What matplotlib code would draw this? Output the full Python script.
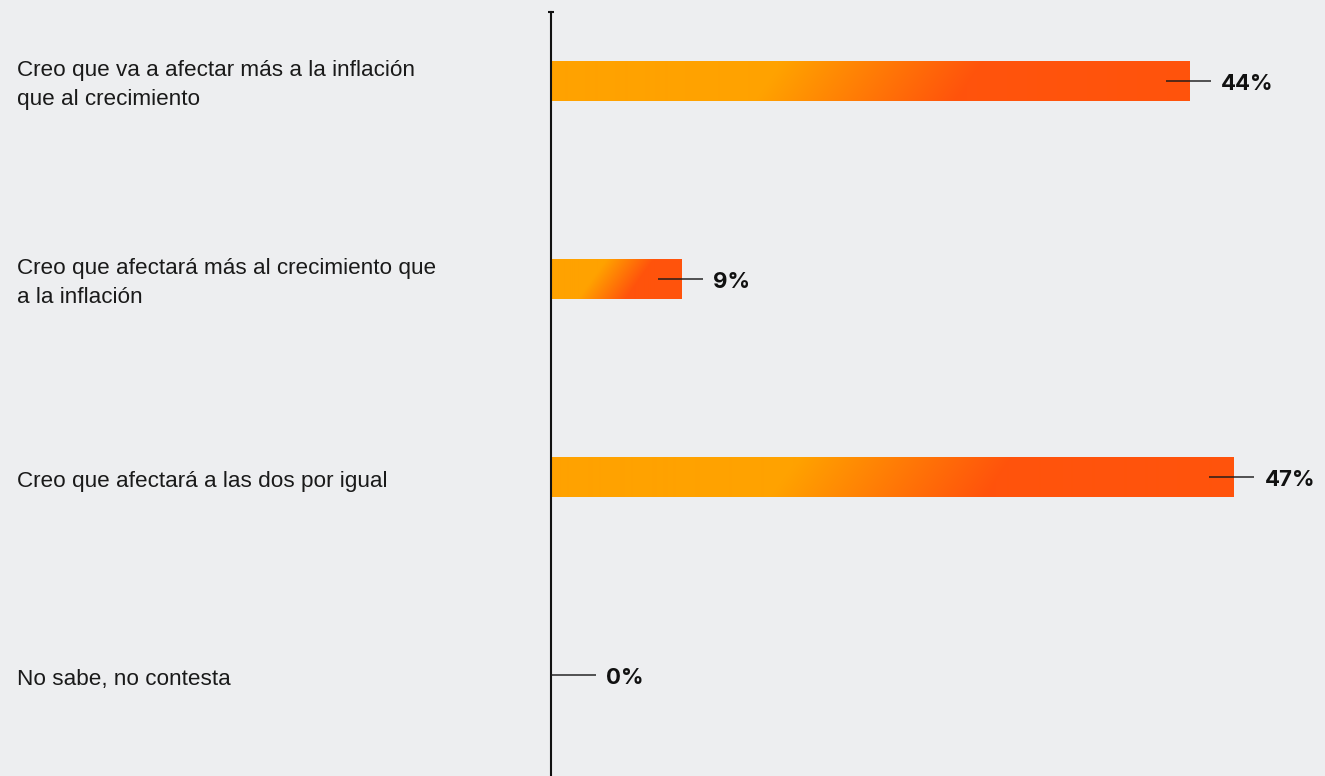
import numpy as np
import matplotlib
matplotlib.use("Agg")
import matplotlib.pyplot as plt
from matplotlib.colors import to_rgb
from matplotlib.transforms import blended_transform_factory, offset_copy

# Survey answers and their shares (%)
categories = [
    "Creo que va a afectar más a la inflación\nque al crecimiento",
    "Creo que afectará más al crecimiento que\na la inflación",
    "Creo que afectará a las dos por igual",
    "No sabe, no contesta",
]
values = [44, 9, 47, 0]
value_labels = ["44%", "9%", "47%", "0%"]

BG = "#EDEEF0"
C_START = "#FFA200"
C_END = "#FF530C"

W, H, DPI = 1325, 776, 100
fig = plt.figure(figsize=(W / DPI, H / DPI), dpi=DPI, facecolor=BG)

ax_left, ax_top = 551, 12
ax = fig.add_axes([ax_left / W, 0, 1 - ax_left / W, 1 - ax_top / H])
ax.set_facecolor(BG)

px_per_unit = 14.52          # pixels per percentage point
xmax = (W - ax_left) / px_per_unit
row_px = 198
ax.set_xlim(0, xmax)
ax.set_ylim(3 + 101 / row_px, -(69 / row_px))

bar_h = 41 / row_px
ypos = np.arange(len(categories))
bars = ax.barh(ypos, values, height=bar_h, facecolor="none", edgecolor="none")

c0 = np.array(to_rgb(C_START))
c1 = np.array(to_rgb(C_END))

def gradient_image(width_px, height_px):
    xs = np.linspace(0, 1, max(int(width_px), 2))
    ys = np.linspace(0, 1, max(int(height_px), 2))
    X, Y = np.meshgrid(xs, ys)
    # slightly diagonal sweep, measured in pixels
    t = (X * width_px + 0.7 * Y * height_px) / (width_px + 0.7 * height_px)
    s = np.clip((t - 0.35) / (0.65 - 0.35), 0, 1)
    return c0[None, None, :] * (1 - s[..., None]) + c1[None, None, :] * s[..., None]

for rect, v in zip(bars, values):
    if v <= 0:
        continue
    y0 = rect.get_y()
    h = rect.get_height()
    img = gradient_image(v * px_per_unit, 41)
    im = ax.imshow(img, extent=[0, v, y0 + h, y0], aspect="auto",
                   interpolation="bilinear", zorder=2)
    im.set_clip_path(rect)

# leader lines and value labels
lead_back = 24 / px_per_unit
lead_len = 45 / px_per_unit
gap = 10 / px_per_unit
val_trans = offset_copy(ax.transData, fig=fig, x=0, y=-3, units="dots")
for y, v, lab in zip(ypos, values, value_labels):
    x0 = max(v - lead_back, 0)
    x1 = x0 + lead_len
    ax.plot([x0, x1], [y, y], color="#1a1a1a", lw=1.3, alpha=0.8,
            solid_capstyle="butt", zorder=3)
    ax.text(x1 + gap, y, lab, transform=val_trans, ha="left", va="center",
            fontsize=16, fontweight="bold", family="Inter", color="#111111",
            zorder=4)

# category labels in the left margin
trans = offset_copy(blended_transform_factory(fig.transFigure, ax.transData),
                    fig=fig, x=0, y=-4, units="dots")
for y, cat in zip(ypos, categories):
    ax.text(17 / W, y, cat, transform=trans, ha="left", va="center",
            fontsize=16.2, family="Liberation Sans", color="#1a1a1a",
            linespacing=1.5)

for side in ("top", "right", "bottom"):
    ax.spines[side].set_visible(False)
ax.spines["left"].set_color("#111111")
ax.spines["left"].set_linewidth(1.5)
ax.set_xticks([])
ax.set_yticks([])
ax.plot([0], [ax.get_ylim()[1]], marker="_", markersize=5, mew=1.5,
        color="#111111", clip_on=False, zorder=5)

fig.savefig("out.png", dpi=DPI, facecolor=BG)
